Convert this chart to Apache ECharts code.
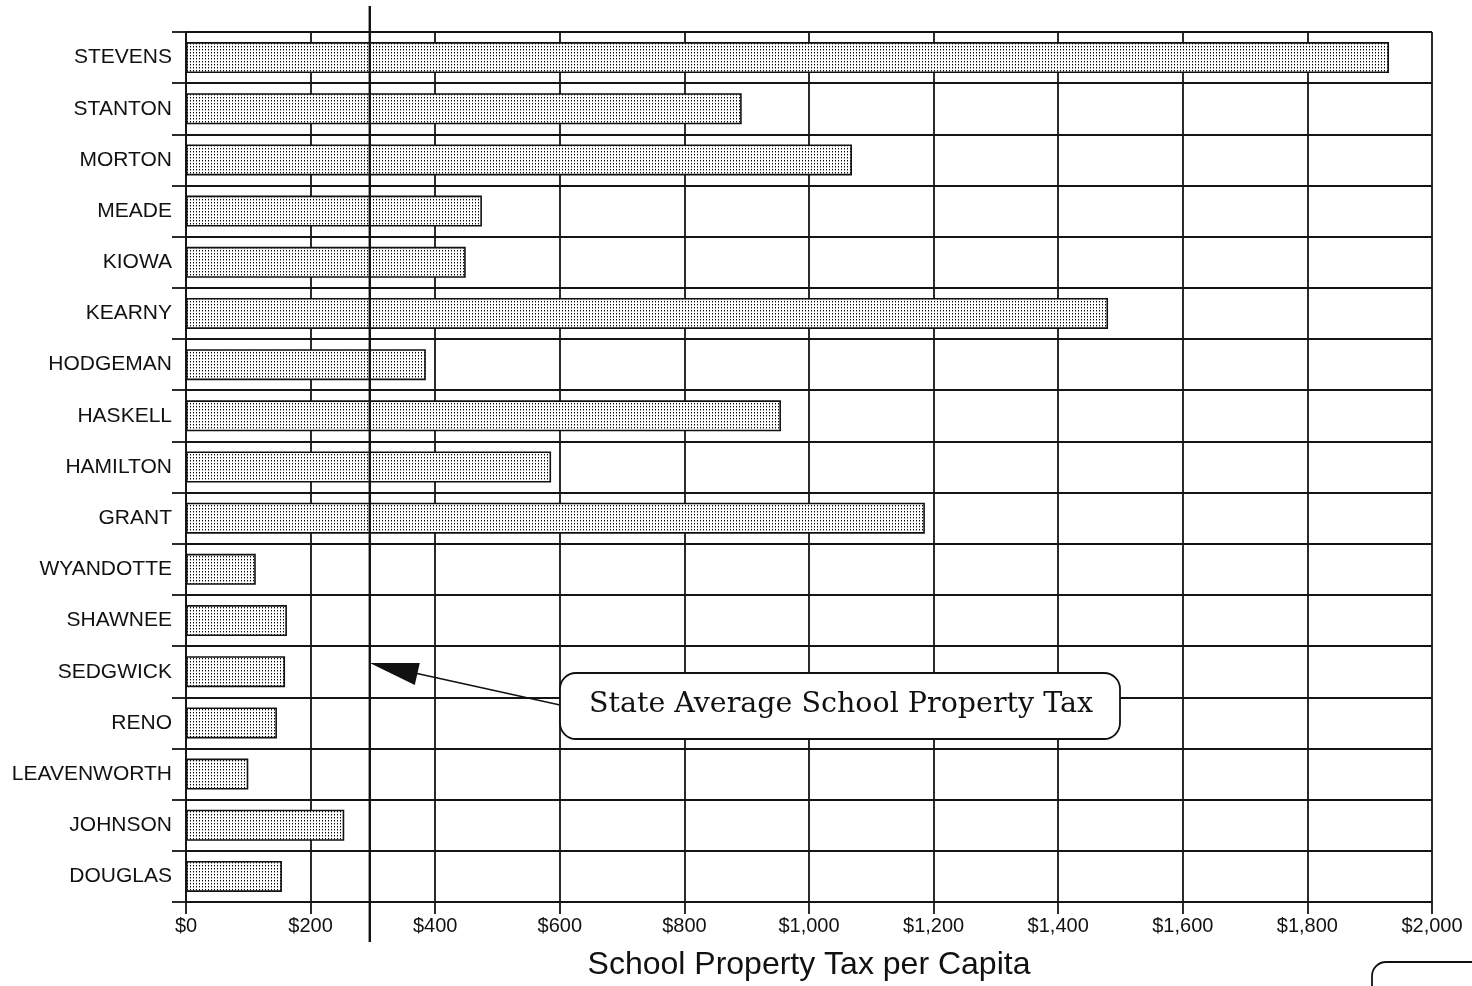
<!DOCTYPE html>
<html>
<head>
<meta charset="utf-8">
<script src="https://cdn.jsdelivr.net/npm/echarts@6/dist/echarts.min.js"></script>
<style>
html,body{margin:0;padding:0;background:#fff;overflow:hidden;}
#chart{width:1472px;height:986px;}
</style>
</head>
<body>
<div id="chart"></div>
<script>
const counties = ['STEVENS','STANTON','MORTON','MEADE','KIOWA','KEARNY','HODGEMAN','HASKELL','HAMILTON','GRANT','WYANDOTTE','SHAWNEE','SEDGWICK','RENO','LEAVENWORTH','JOHNSON','DOUGLAS'];
const taxPerCapita = [1931, 892, 1069, 475, 449, 1480, 385, 955, 586, 1186, 112, 162, 159, 146, 100, 254, 154];
const stateAverage = 295;
const xTicks = {min: 0, max: 2000, interval: 200};
const axisTitle = 'School Property Tax per Capita';
const noteText = 'State Average School Property Tax';

// stipple pattern for bars
const pat = document.createElement('canvas');
pat.width = 3; pat.height = 3;
const pc = pat.getContext('2d');
pc.fillStyle = '#ffffff'; pc.fillRect(0,0,3,3);
pc.fillStyle = '#000000'; pc.fillRect(1,1,1,1);
pc.fillStyle = '#9a9a9a'; pc.fillRect(1,2,1,1);

const chart = echarts.init(document.getElementById('chart'), null, {renderer:'canvas', width: 1472, height: 986});
const lineColor = '#151515';
chart.setOption({
  backgroundColor: '#ffffff',
  animation: false,
  grid: {left: 186, width: 1246, top: 32, height: 877, containLabel: false},
  xAxis: {
    type: 'value', min: xTicks.min, max: xTicks.max, interval: xTicks.interval,
    position: 'bottom',
    name: axisTitle, nameLocation: 'middle', nameGap: 47,
    nameTextStyle: {fontFamily: 'Liberation Sans', fontSize: 32, color: '#111'},
    axisLine: {show: true, lineStyle: {color: lineColor, width: 1.8}},
    axisTick: {show: true, length: 12, lineStyle: {color: lineColor, width: 1.8}},
    axisLabel: {fontFamily: 'Liberation Sans', fontSize: 20, color: '#111', margin: 14,
      formatter: v => '$' + v.toLocaleString('en-US')},
    splitLine: {show: true, lineStyle: {color: lineColor, width: 1.8}}
  },
  yAxis: {
    type: 'category', data: counties, inverse: true,
    axisLine: {show: true, lineStyle: {color: lineColor, width: 1.8}},
    axisTick: {show: true, length: 14, lineStyle: {color: lineColor, width: 1.8}},
    axisLabel: {fontFamily: 'Liberation Sans', fontSize: 21, color: '#111', margin: 14},
    splitLine: {show: true, lineStyle: {color: lineColor, width: 1.8}}
  },
  series: [{
    type: 'bar', data: taxPerCapita, barWidth: 31,
    itemStyle: {color: {image: pat, repeat: 'repeat'}, borderColor: '#111', borderWidth: 1.6}
  }]
});

// frame top and annotation
const avgX = chart.convertToPixel({xAxisIndex: 0}, stateAverage);
const tipY = 663;
chart.setOption({
  graphic: [
    {type: 'line', shape: {x1: 186, y1: 32, x2: 1432, y2: 32}, style: {stroke: lineColor, lineWidth: 1.8}, z: 50},
    {type: 'line', shape: {x1: avgX, y1: 6, x2: avgX, y2: 942}, style: {stroke: '#111', lineWidth: 2.4}, z: 60},
    {type: 'line', shape: {x1: avgX + 45, y1: 673, x2: 560, y2: 705}, style: {stroke: '#111', lineWidth: 1.5}, z: 60},
    {type: 'polygon', shape: {points: [[avgX, tipY], [avgX + 50, tipY], [avgX + 45, tipY + 22]]}, style: {fill: '#111'}, z: 61},
    {type: 'rect', shape: {x: 560, y: 673, width: 560, height: 66, r: 16}, style: {fill: '#fff', stroke: '#111', lineWidth: 1.8}, z: 62},
    {type: 'text', x: 841, y: 705, style: {text: noteText, fontFamily: 'DejaVu Serif', fontSize: 28.5, fill: '#111', align: 'center', verticalAlign: 'middle'}, z: 63},
    {type: 'rect', shape: {x: 1372, y: 962, width: 140, height: 60, r: 14}, style: {fill: '#fff', stroke: '#111', lineWidth: 1.8}, z: 62}
  ]
});
</script>
</body>
</html>
